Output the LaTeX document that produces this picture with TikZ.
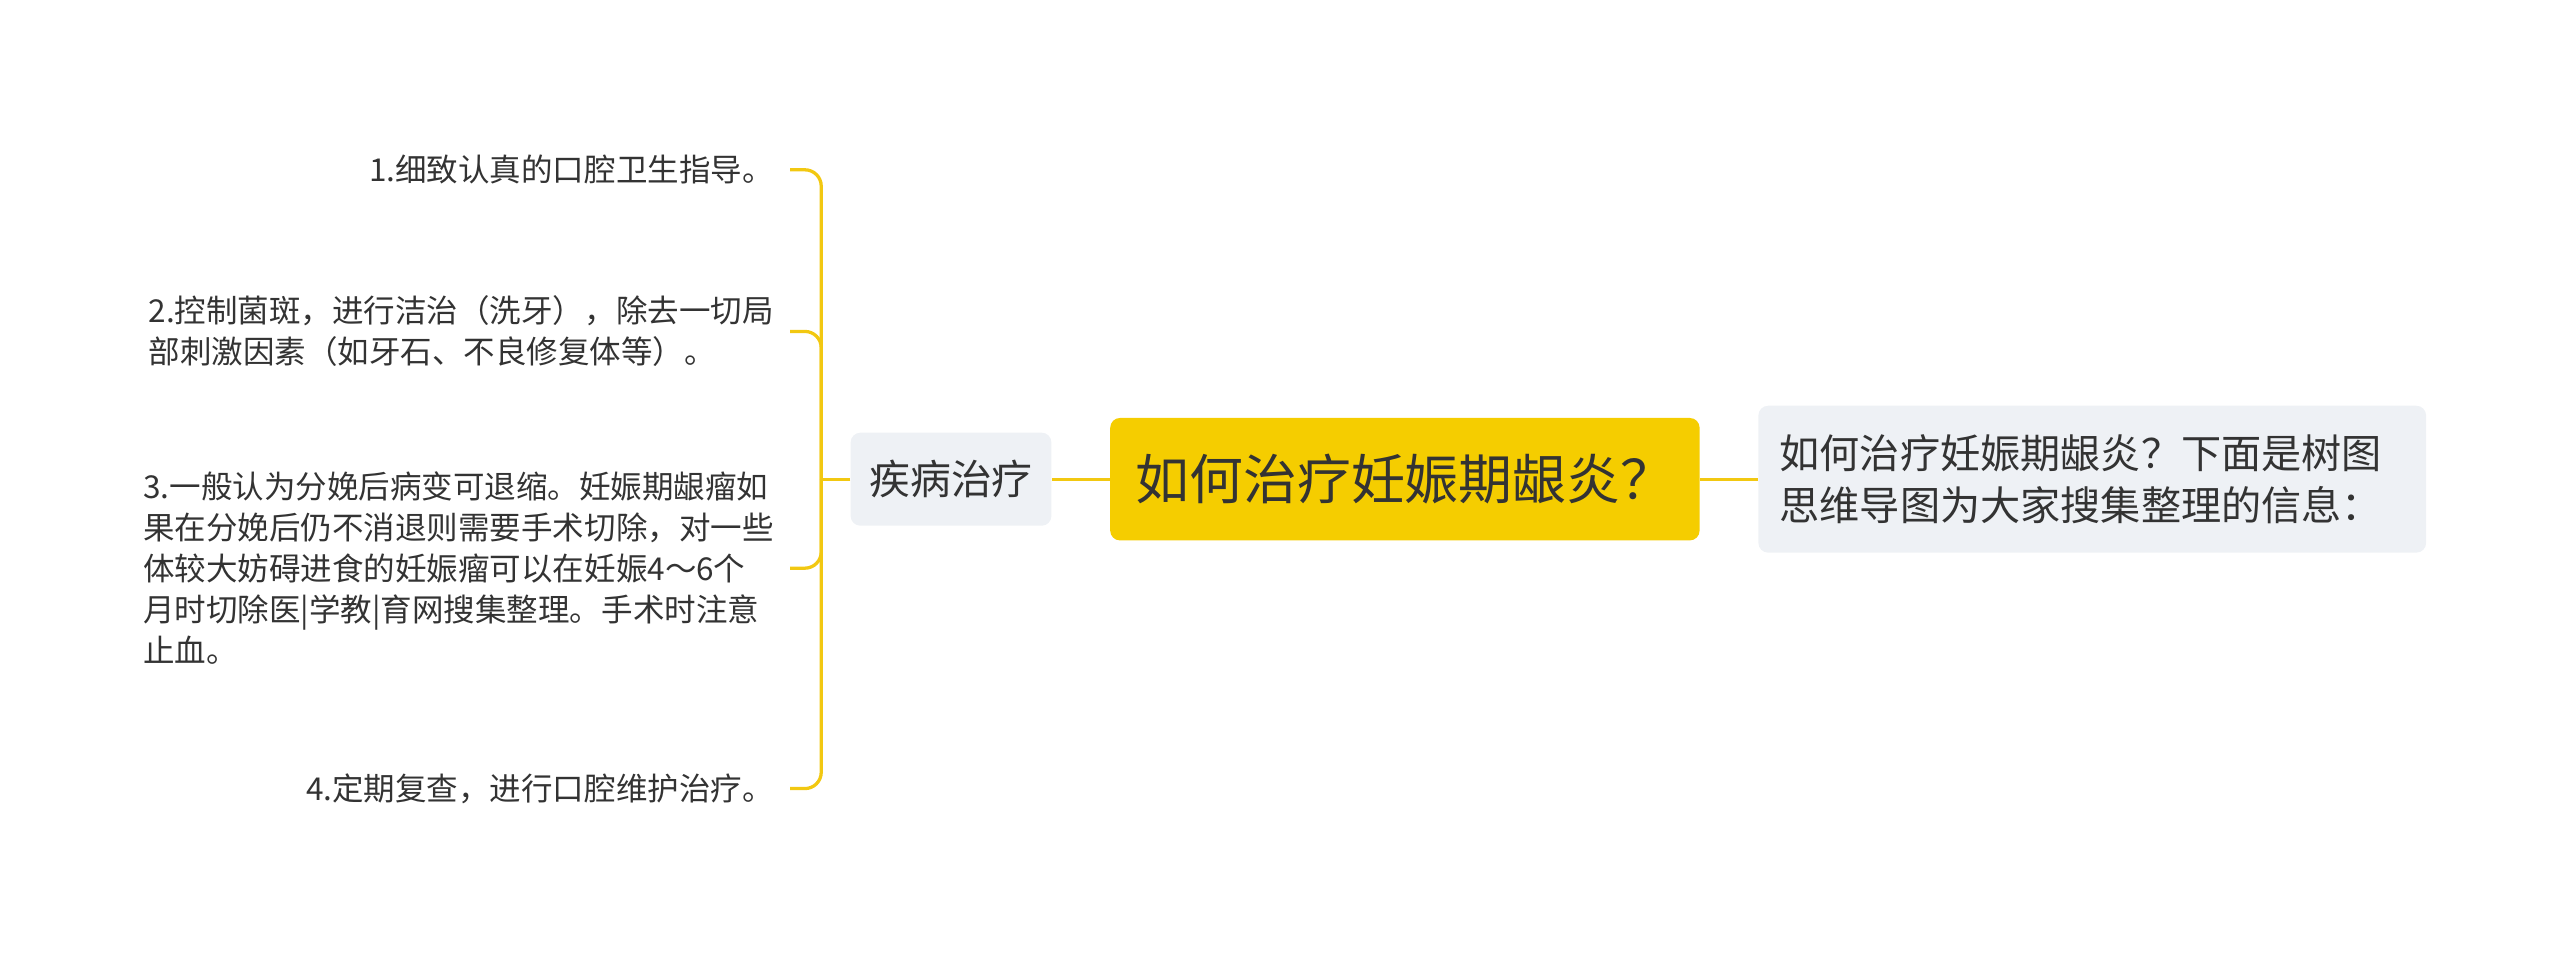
\documentclass[tikz,border=0pt]{standalone}
\usepackage{fontspec}
\newfontfamily\cjk{Noto Sans CJK SC}
\usetikzlibrary{positioning}
\definecolor{mmyellow}{HTML}{F5CD00}
\definecolor{mmline}{HTML}{F2C811}
\definecolor{mmgrey}{HTML}{EEF1F5}
\definecolor{mmtext}{HTML}{333333}
\begin{document}
\begin{tikzpicture}[x=1pt,y=-1pt,
  link/.style={draw=mmline,line width=2pt},
  topicbox/.style={fill=mmyellow,rounded corners=6pt,text=mmtext,inner sep=0pt,
    font=\cjk\fontsize{33}{40}\selectfont,minimum width=361pt,minimum height=75pt},
  subbox/.style={fill=mmgrey,rounded corners=6pt,text=mmtext,inner sep=0pt,
    font=\cjk\fontsize{25}{32}\selectfont},
  leaf/.style={anchor=east,align=left,inner xsep=8pt,inner ysep=0pt,text=mmtext,
    font=\cjk\fontsize{19.3}{25.2}\selectfont}]
  \useasboundingbox (0,0) rectangle (1568,587);
  % centre and the two sides
  \node[topicbox] (topic) at (860.5,293.5) {如何治疗妊娠期龈炎？};
  \node[subbox,minimum width=123pt,minimum height=57pt] (cure) at (582.5,293.5) {疾病治疗};
  \node[subbox,font=\cjk\fontsize{24.6}{32}\selectfont,text width=383pt,inner xsep=13pt,
    minimum height=90pt,align=left] (intro) at (1281.5,293.5)
    {如何治疗妊娠期龈炎？下面是树图\\思维导图为大家搜集整理的信息：};
  % leaves
  \node[leaf] (item1) at (482,104) {1.细致认真的口腔卫生指导。};
  \node[leaf] (item2) at (482,203) {2.控制菌斑，进行洁治（洗牙），除去一切局\\部刺激因素（如牙石、不良修复体等）。};
  \node[leaf] (item3) at (482,348) {3.一般认为分娩后病变可退缩。妊娠期龈瘤如\\果在分娩后仍不消退则需要手术切除，对一些\\体较大妨碍进食的妊娠瘤可以在妊娠4～6个\\月时切除医|学教|育网搜集整理。手术时注意\\止血。};
  \node[leaf] (item4) at (482,483) {4.定期复查，进行口腔维护治疗。};
  \coordinate (trunk) at (503,293.5);
  % connectors
  \draw[link] (cure.east) -- (topic.west);
  \draw[link] (topic.east) -- (intro.west);
  \draw[link] (cure.west) -- (trunk);
  \foreach \i in {1,...,4}
    \draw[link,rounded corners=10pt] (trunk) |- ([xshift=2pt]item\i.east);
\end{tikzpicture}
\end{document}
